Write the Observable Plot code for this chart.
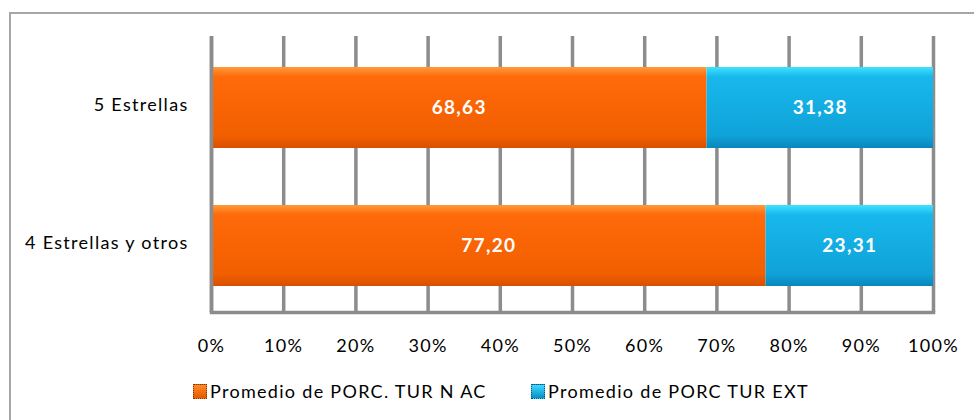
<!DOCTYPE html>
<html>
<head>
<meta charset="utf-8">
<script src="https://cdn.jsdelivr.net/npm/d3@7"></script>
<script src="https://cdn.jsdelivr.net/npm/@observablehq/plot@0.6"></script>
<style>
  body { margin: 0; background: #fff; }
  #wrap { position: relative; width: 974px; height: 420px; overflow: hidden; background: #fff; font-family: Lato, "Open Sans", sans-serif; }
  #border { position: absolute; left: 9px; top: 12px; width: 1000px; height: 500px; border: 2px solid #a6a6a6; box-sizing: border-box; }
  #chart { position: absolute; left: 0; top: 0; }
  #chart svg text { letter-spacing: 1.3px; }
  .leg { position: absolute; top: 380px; font-size: 18px; letter-spacing: 1.3px; color: #000; display: flex; align-items: center; white-space: nowrap; }
  .sw { width: 14px; height: 15px; margin-right: 3px; box-sizing: border-box; border: 1px dotted #7a3a00; }
</style>
</head>
<body>
<div id="wrap">
  <div id="border"></div>
  <div id="chart"></div>
  <div class="leg" style="left:193px"><span class="sw" style="background:linear-gradient(#ff8a2a,#e45a00)"></span>Promedio de PORC. TUR N AC</div>
  <div class="leg" style="left:531px"><span class="sw" style="background:linear-gradient(#3fd8ff,#0a8fc6);border-color:#0a5a80"></span>Promedio de PORC TUR EXT</div>
</div>
<script>
const categories = ["5 Estrellas", "4 Estrellas y otros"];
const seriesNames = ["NAC", "EXT"];
const nacValues = [68.63, 77.20];
const extValues = [31.38, 23.31];
const xTicks = [0, 0.1, 0.2, 0.3, 0.4, 0.5, 0.6, 0.7, 0.8, 0.9, 1];

const rows = categories.flatMap((c, i) => [
  {cat: c, serie: "NAC", v: nacValues[i]},
  {cat: c, serie: "EXT", v: extValues[i]}
]);
const fills = {NAC: "url(#gOrange)", EXT: "url(#gBlue)"};
const fmt = v => v.toFixed(2).replace(".", ",");

const plot = Plot.plot({
  width: 974,
  height: 370,
  marginLeft: 211,
  marginRight: 41,
  marginTop: 36,
  marginBottom: 58,
  style: {fontFamily: "Lato, 'Open Sans', sans-serif", fontSize: "18px", background: "transparent", color: "#000"},
  x: {domain: [0, 1], ticks: xTicks, tickFormat: d => Math.round(d * 100) + "%", label: null},
  y: {domain: categories, padding: 0, label: null},
  color: {type: "identity"},
  marks: [
    Plot.ruleX(xTicks, {stroke: "#8c8c8c", strokeWidth: 3.5}),
    Plot.barX(rows, Plot.stackX({offset: "normalize", x: "v", y: "cat", fill: d => fills[d.serie], insetTop: 31, insetBottom: 26, inset: 0})),
    Plot.ruleY(categories, {y: "cat", x1: 0, x2: 1, dy: 42, stroke: "#222", strokeWidth: 1.2, strokeDasharray: "2,2"}),
    Plot.text(rows, Plot.stackX({offset: "normalize", x: "v", y: "cat", text: d => fmt(d.v), fill: "white", fontWeight: "bold", fontSize: 19, dy: 2.5})),
    Plot.axisX({ticks: xTicks, tickSize: 0, tickPadding: 27, tickFormat: d => Math.round(d * 100) + "%", fontSize: 18}),
    Plot.axisY({tickSize: 0, tickPadding: 23, fontSize: 18}),
    Plot.ruleX([0], {stroke: "#8c8c8c", strokeWidth: 3.5}),
    Plot.frame({anchor: "bottom", stroke: "#8c8c8c", strokeWidth: 3.5})
  ]
});

const svg = d3.select(plot);
const defs = svg.insert("defs", ":first-child");
const go = defs.append("linearGradient").attr("id", "gOrange").attr("x1", 0).attr("x2", 0).attr("y1", 0).attr("y2", 1);
go.append("stop").attr("offset", "0%").attr("stop-color", "#ff9a3a");
go.append("stop").attr("offset", "12%").attr("stop-color", "#ff6a0a");
go.append("stop").attr("offset", "85%").attr("stop-color", "#f25f00");
go.append("stop").attr("offset", "100%").attr("stop-color", "#d85000");
const gb = defs.append("linearGradient").attr("id", "gBlue").attr("x1", 0).attr("x2", 0).attr("y1", 0).attr("y2", 1);
gb.append("stop").attr("offset", "0%").attr("stop-color", "#3fe3ff");
gb.append("stop").attr("offset", "12%").attr("stop-color", "#18b8ec");
gb.append("stop").attr("offset", "85%").attr("stop-color", "#0fa2d8");
gb.append("stop").attr("offset", "100%").attr("stop-color", "#0a86bc");

document.getElementById("chart").appendChild(plot);
</script>
</body>
</html>
